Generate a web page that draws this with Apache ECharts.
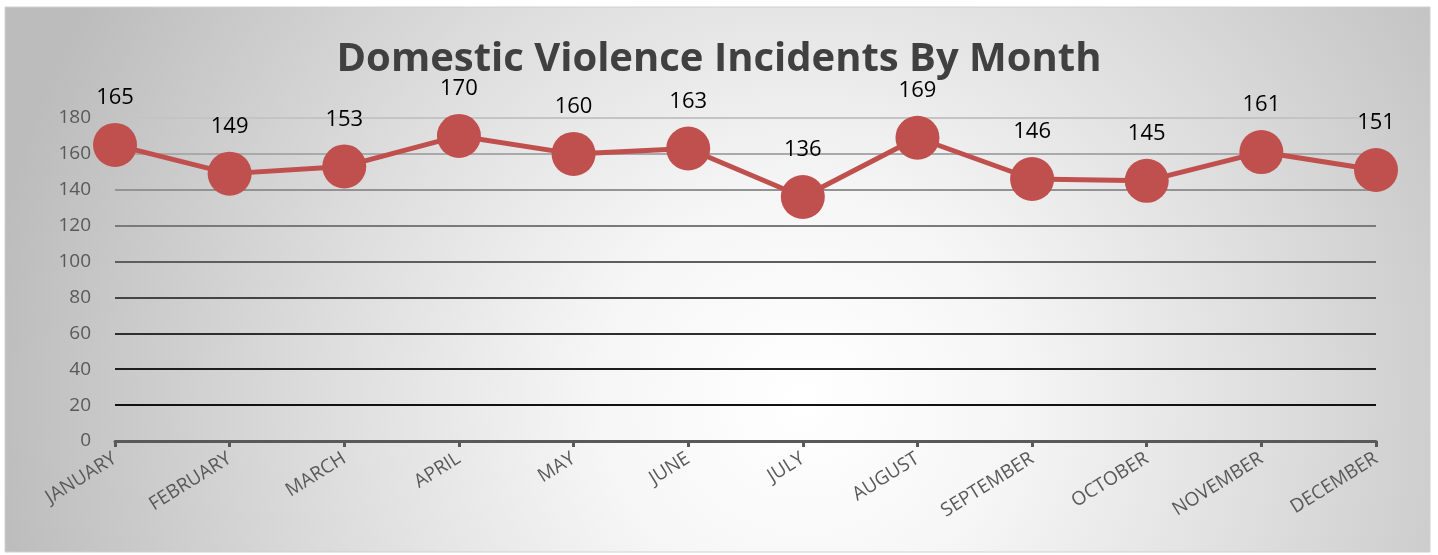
<!DOCTYPE html>
<html>
<head>
<meta charset="utf-8">
<script src="https://cdn.jsdelivr.net/npm/echarts@6/dist/echarts.min.js"></script>
<style>html,body{margin:0;padding:0;background:#fff;}#c{width:1438px;height:555px;}</style>
</head>
<body>
<div id="c"></div>
<script>
const months = ['JANUARY','FEBRUARY','MARCH','APRIL','MAY','JUNE','JULY','AUGUST','SEPTEMBER','OCTOBER','NOVEMBER','DECEMBER'];
const incidents = [165,149,153,170,160,163,136,169,146,145,161,151];
const yMin = 0, yMax = 180, yStep = 20;
const gridColors = ['#595959','#111111','#1e1e1e','#2e2e2e','#444444','#5e5e5e','#7a7a7a','#939393','#a9a9a9','#c4c4c4'];

const chart = echarts.init(document.getElementById('c'));
chart.setOption({
  animation: false,
  graphic: [{
    type: 'rect', z: -10, silent: true,
    shape: {x: 5, y: 7, width: 1425, height: 545},
    style: {
      fill: new echarts.graphic.RadialGradient(0.56, 0.72, 1.5, [
        {offset: 0, color: '#ffffff'},
        {offset: 0.25, color: '#f6f6f6'},
        {offset: 0.6, color: '#dcdcdc'},
        {offset: 1, color: '#bcbcbc'}
      ]),
      stroke: '#d0d0d0', lineWidth: 1
    }
  }],
  title: {
    text: 'Domestic Violence Incidents By Month',
    left: 'center', top: 35,
    textStyle: {fontFamily: 'Open Sans', fontWeight: 'bold', fontSize: 40, color: '#404040'}
  },
  grid: {left: 115, right: 62, top: 118, bottom: 114},
  xAxis: {
    type: 'category', data: months, boundaryGap: false,
    axisLine: {lineStyle: {color: '#595959', width: 3}},
    axisTick: {show: true, length: 6, lineStyle: {color: '#595959', width: 3}},
    axisLabel: {rotate: 32, margin: 16, fontFamily: 'Open Sans', fontSize: 19, color: '#595959'},
    splitLine: {show: false}
  },
  yAxis: {
    type: 'value', min: yMin, max: yMax, interval: yStep,
    axisLine: {show: false}, axisTick: {show: false},
    axisLabel: {margin: 24, fontFamily: 'Open Sans', fontSize: 19, color: '#595959'},
    splitLine: {show: true, lineStyle: {color: gridColors, width: 2}}
  },
  series: [{
    type: 'line', data: incidents,
    symbol: 'circle', symbolSize: 44,
    lineStyle: {color: '#c0504d', width: 5},
    itemStyle: {color: '#c0504d'},
    label: {show: true, position: 'top', distance: 14, fontFamily: 'Open Sans', fontSize: 22, color: '#000'}
  }]
});
</script>
</body>
</html>
